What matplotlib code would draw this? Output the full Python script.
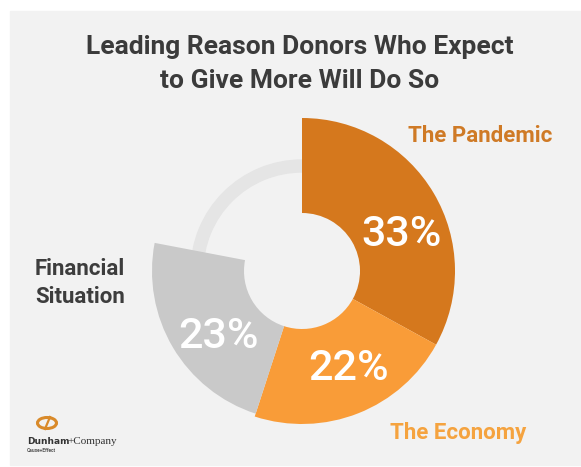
import matplotlib
matplotlib.use("Agg")
import matplotlib.pyplot as plt
from matplotlib.patches import Rectangle, Wedge, Ellipse

plt.rcParams['font.family'] = ['Roboto', 'DejaVu Sans']

# reasons and their share of donors (%)
reasons = ["The Pandemic", "The Economy", "Financial Situation"]
shares = [33, 22, 23]
ring_colors = ["#d5781d", "#f99c38", "#c9c9c9"]
ring_radii = [153, 153, 150]
label_colors = ["#cf7a26", "#f5a33f", "#3d3d3d"]

W, H = 581, 467
fig = plt.figure(figsize=(W / 100, H / 100), dpi=100)
ax = fig.add_axes([0, 0, 1, 1])

def Y(y):
    # work in top-down pixel rows
    return H - y

ax.add_patch(Rectangle((10, Y(465)), W - 10, 454, color="#f2f2f2", zorder=0))

cx, cy = 302, Y(271)
inner = 58

# faint track behind the segments
ax.add_patch(Wedge((cx, cy), 111, 0, 360, width=12, color="#e5e5e5", zorder=1))

# segments run clockwise from 12 o'clock
wedges, _ = ax.pie(shares + [100 - sum(shares)], startangle=90, counterclock=False,
                   center=(cx, cy), radius=153, frame=True,
                   colors=ring_colors + ["none"],
                   wedgeprops=dict(width=153 - inner, linewidth=0))
for w, r in zip(wedges, ring_radii):
    w.set_radius(r)
    w.set_width(r - inner)
    w.set_zorder(2)
wedges[-1].set_visible(False)
ax.set_xlim(0, W)
ax.set_ylim(0, H)
ax.set_aspect("auto")
ax.axis("off")

# value labels inside the segments
pct_pos = [(402, 234), (349, 369), (219, 337)]
for v, (x, y) in zip(shares, pct_pos):
    ax.text(x, Y(y), f"{v}%", color="white", fontsize=31, fontweight="medium",
            ha="center", va="center", zorder=3)

ax.text(300, Y(47), "Leading Reason Donors Who Expect", fontsize=19,
        fontweight="bold", color="#3b3b3b", ha="center", va="center")
ax.text(300, Y(81), "to Give More Will Do So", fontsize=19,
        fontweight="bold", color="#3b3b3b", ha="center", va="center")

ax.text(480, Y(136), reasons[0], fontsize=16, fontweight="bold",
        color=label_colors[0], ha="center", va="center")
ax.text(458, Y(433), reasons[1], fontsize=16, fontweight="bold",
        color=label_colors[1], ha="center", va="center")
ax.text(35, Y(283), "Financial\nSituation", fontsize=16, fontweight="bold",
        color=label_colors[2], ha="left", va="center", linespacing=1.3)

# company logo
ax.add_patch(Ellipse((47, Y(423)), 19, 11, fill=False, ec="#d98a2a", lw=2.2))
ax.plot([45, 50], [Y(429), Y(417)], color="#d98a2a", lw=1.6)
ax.text(27, Y(442), "Dunham", fontsize=6.5, fontweight="bold", color="#333333",
        ha="left", va="center", family="DejaVu Sans")
ax.text(67, Y(442), "+Company", fontsize=8, color="#333333",
        ha="left", va="center", family="Liberation Serif")
ax.text(27, Y(451), "Cause+Effect", fontsize=3.5, fontweight="bold",
        color="#555555", ha="left", va="center")

fig.savefig("out.png", dpi=100)
